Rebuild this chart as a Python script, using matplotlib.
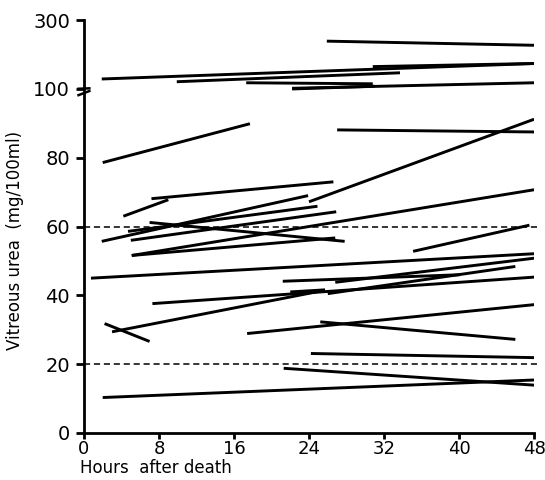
import numpy as np
import matplotlib.pyplot as plt
from matplotlib.transforms import blended_transform_factory

# each case: urea at first and second sampling (hours after death, mg/100ml)
start_hours = [25.9, 1.9, 9.9, 17.3, 22.2, 22.2, 30.8,
               2.0, 27.0, 24.0, 4.2, 7.2, 1.9, 4.7, 5.0, 7.0, 5.1, 5.1, 35.1,
               0.75, 26.8, 21.2, 22.0, 26.0, 7.3, 2.2, 3.0, 17.4, 25.2, 24.2, 21.3, 2.0]
start_urea = [239, 129, 121, 118, 102, 100, 165,
              78.6, 88.1, 67.2, 63.0, 68.1, 55.7, 58.6, 56.0, 61.2, 51.6, 51.6, 52.8,
              45.0, 43.8, 44.1, 41.0, 40.5, 37.6, 31.8, 29.4, 28.9, 32.3, 23.1, 18.8, 10.3]
end_hours = [48, 48, 33.7, 30.8, 48, 31.0, 48,
             17.7, 48, 48, 9.0, 26.6, 23.9, 24.9, 26.9, 27.8, 26.8, 48, 47.5,
             48, 48, 40.1, 25.7, 46.0, 48, 7.0, 25.7, 48, 46.0, 48, 48, 48]
end_urea = [227, 174, 147, 115, 118, 108, 174,
            89.9, 87.5, 91.2, 67.8, 73.0, 69.0, 65.9, 64.3, 55.7, 56.7, 70.7, 60.4,
            52.1, 50.8, 46.0, 41.6, 48.4, 45.3, 26.6, 41.5, 37.3, 27.2, 21.9, 13.9, 15.4]

ref_levels = [20, 60]
y_ticks = [0, 20, 40, 60, 80, 100, 300]
x_ticks = [0, 8, 16, 24, 32, 40, 48]


def fwd(v):
    v = np.asarray(v, dtype=float)
    return np.where(v <= 100, v, 100 + (v - 100) / 10.0)


def inv(d):
    d = np.asarray(d, dtype=float)
    return np.where(d <= 100, d, 100 + (d - 100) * 10.0)


fig = plt.figure(figsize=(5.45, 4.8), dpi=100)
ax = fig.add_axes([0.154, 0.098, 0.826, 0.86])
ax.set_yscale('function', functions=(fwd, inv))

for h0, u0, h1, u1 in zip(start_hours, start_urea, end_hours, end_urea):
    ax.plot([h0, h1], [u0, u1], color='black', lw=2.1, solid_capstyle='butt')

for lvl in ref_levels:
    ax.plot([0, 48.5], [lvl, lvl], color='black', lw=1.1, ls=(0, (4, 2.5)), clip_on=False)

ax.set_xlim(0, 48)
ax.set_ylim(0, 300)
ax.set_xticks(x_ticks)
ax.set_yticks(y_ticks)
ax.set_xticklabels([str(t) for t in x_ticks], fontsize=13)
ax.set_yticklabels([str(t) for t in y_ticks], fontsize=14)
ax.tick_params(axis='x', direction='out', length=4, width=2, pad=1)
ax.tick_params(axis='y', direction='out', length=6, width=2, pad=4)

for s in ['top', 'right']:
    ax.spines[s].set_visible(False)
for s in ['left', 'bottom']:
    ax.spines[s].set_linewidth(2)

# axis break marks at 100
tr = blended_transform_factory(ax.transAxes, ax.transData)
for off in [-1.2, 1.2]:
    ax.plot([-0.012, 0.012], [100 + off - 0.6, 100 + off + 0.6], transform=tr,
            color='black', lw=1.8, clip_on=False)

fig.text(0.028, 0.5, 'Vitreous urea  (mg/100ml)', rotation=90, fontsize=12,
         ha='center', va='center')
fig.text(0.147, 0.006, 'Hours  after death', fontsize=12, ha='left', va='bottom')

fig.savefig('out.png', dpi=100)
